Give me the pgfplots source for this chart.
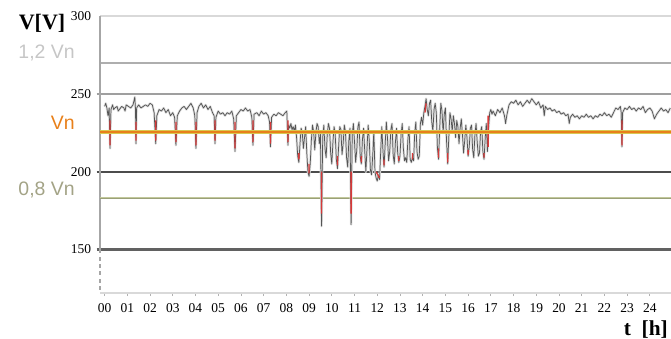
\documentclass[border=0pt]{standalone}
\usepackage{fontspec}
\setmainfont{Liberation Serif}
\newfontfamily\arialf{Liberation Sans}
\usepackage{pgfplots}
\usepackage{pgfplotstable}
\pgfplotsset{compat=1.18}
\definecolor{vncol}{HTML}{E8801A}
\definecolor{vnedge}{HTML}{D8C850}
\definecolor{lowcol}{HTML}{A8B070}
\definecolor{lowtxt}{HTML}{A3A386}
\definecolor{hicol}{HTML}{AEAEAE}
\definecolor{hitxt}{HTML}{C6C6C6}
\definecolor{datcol}{HTML}{555555}
\definecolor{redcol}{HTML}{D83838}
\pgfplotstableread{
t v
0.00 242
0.05 244
0.10 241
0.15 236
0.20 241
0.24 215
0.28 240
0.35 243
0.40 240
0.45 241
0.55 242
0.60 239
0.65 240
0.75 242
0.85 241
0.90 239
0.95 243
1.05 242
1.15 241
1.25 243
1.33 248
1.36 240
1.38 218
1.41 241
1.50 243
1.60 241
1.70 242
1.80 243
1.90 242
2.00 244
2.10 243
2.18 238
2.25 218
2.30 236
2.40 240
2.50 239
2.60 241
2.70 238
2.80 240
2.90 236
3.00 238
3.08 235
3.14 217
3.20 236
3.30 239
3.40 241
3.50 242
3.60 240
3.70 242
3.80 244
3.90 241
3.97 236
4.02 215
4.07 238
4.15 242
4.25 244
4.35 241
4.45 243
4.55 240
4.65 242
4.75 238
4.82 236
4.86 218
4.90 235
5.00 239
5.10 237
5.20 238
5.30 236
5.40 238
5.50 237
5.60 239
5.68 234
5.74 213
5.80 236
5.90 238
6.00 240
6.10 239
6.20 241
6.30 239
6.40 240
6.48 235
6.53 217
6.58 237
6.70 238
6.80 236
6.90 239
7.00 237
7.10 238
7.20 236
7.26 232
7.30 216
7.35 235
7.45 237
7.55 236
7.65 238
7.75 237
7.85 236
7.95 238
8.02 239
8.07 217
8.10 230
8.15 228
8.20 231
8.25 227
8.30 229
8.35 226
8.40 230
8.45 222
8.50 210
8.55 206
8.60 218
8.65 228
8.70 225
8.75 215
8.80 222
8.85 229
8.90 212
8.95 200
9.00 197
9.05 205
9.10 220
9.15 230
9.20 226
9.25 214
9.30 225
9.35 231
9.40 229
9.45 218
9.50 224
9.55 165
9.60 222
9.65 230
9.70 215
9.75 209
9.80 224
9.85 231
9.90 228
9.95 212
10.00 205
10.05 219
10.10 229
10.15 224
10.20 208
10.25 202
10.30 216
10.35 229
10.40 227
10.45 211
10.50 218
10.55 230
10.60 226
10.65 209
10.70 203
10.75 220
10.80 228
10.85 166
10.90 224
10.95 231
11.00 219
11.05 206
11.10 214
11.15 229
11.20 232
11.25 210
11.30 205
11.35 221
11.40 228
11.45 213
11.50 200
11.55 215
11.60 230
11.65 220
11.70 201
11.75 198
11.80 210
11.85 226
11.90 200
11.95 196
12.00 194
12.05 198
12.10 195
12.15 212
12.20 229
12.25 214
12.30 203
12.35 218
12.40 232
12.45 222
12.50 207
12.55 213
12.60 227
12.65 231
12.70 211
12.75 205
12.80 219
12.85 228
12.90 212
12.95 206
13.00 210
13.05 224
13.10 231
13.15 215
13.20 207
13.25 209
13.30 206
13.35 221
13.40 229
13.45 208
13.50 206
13.55 209
13.60 207
13.65 225
13.70 232
13.75 213
13.80 208
13.85 210
13.90 231
13.95 235
14.00 230
14.05 238
14.10 242
14.15 247
14.20 240
14.25 236
14.30 244
14.35 246
14.40 232
14.45 226
14.50 240
14.55 244
14.60 238
14.65 215
14.70 208
14.75 228
14.80 244
14.85 239
14.90 225
14.95 237
15.00 241
15.05 220
15.10 205
15.15 222
15.20 238
15.25 234
15.30 226
15.35 236
15.40 231
15.45 222
15.50 233
15.55 229
15.60 218
15.65 228
15.70 234
15.75 224
15.80 212
15.85 220
15.90 230
15.95 222
16.00 210
16.05 216
16.10 228
16.15 230
16.20 214
16.25 209
16.30 224
16.35 231
16.40 219
16.45 210
16.50 212
16.55 226
16.60 229
16.65 213
16.70 208
16.75 221
16.80 231
16.85 213
16.90 228
16.95 238
17.00 240
17.05 237
17.10 239
17.20 236
17.30 240
17.40 238
17.50 241
17.60 236
17.65 231
17.70 236
17.80 243
17.90 245
18.00 244
18.10 246
18.20 243
18.30 245
18.40 242
18.50 244
18.60 246
18.70 244
18.80 247
18.90 245
19.00 243
19.10 245
19.20 241
19.30 243
19.35 236
19.40 242
19.50 240
19.60 241
19.70 239
19.80 240
19.90 238
20.00 239
20.10 237
20.20 238
20.30 236
20.40 237
20.45 231
20.50 235
20.60 237
20.70 235
20.80 236
20.90 234
21.00 236
21.10 235
21.20 237
21.30 235
21.40 236
21.50 234
21.60 236
21.70 235
21.80 237
21.90 236
22.00 238
22.10 236
22.20 237
22.30 235
22.40 238
22.50 241
22.60 240
22.70 242
22.74 238
22.77 216
22.80 238
22.90 241
23.00 240
23.10 242
23.20 240
23.30 241
23.40 239
23.50 241
23.60 240
23.70 242
23.80 238
23.90 240
24.00 241
24.10 239
24.20 234
24.30 237
24.40 239
24.50 241
24.60 239
24.70 240
24.80 238
24.90 241
}\voltdata
\begin{document}
\begin{tikzpicture}[x=0.75pt,y=0.75pt]
\useasboundingbox (0,0) rectangle (671,339);
\begin{axis}[
  at={(75pt,34.27pt)}, anchor=south west,
  scale only axis, width=428.25pt, height=207.8pt,
  xmin=-0.2025, xmax=24.93, ymin=121.8, ymax=300,
  clip=false,
  axis lines*=left,
  axis line style={draw=none},
  xtick={0,...,24},
  xticklabels={00,01,02,03,04,05,06,07,08,09,10,11,12,13,14,15,16,17,18,19,20,21,22,23,24},
  ytick={150,200,250,300},
  yticklabels={150,200,250,300},
  ytick style={draw=none},
  xtick style={draw=gray!60, line width=0.6pt},
  tick align=outside,
  major tick length=2.2pt,
  ticklabel style={font=\fontsize{10.1}{12}\selectfont, text=black},
  xticklabel style={yshift=-2pt},
  yticklabel style={xshift=-1pt},
  unbounded coords=jump,
]
% reference lines
\addplot[gray!30, line width=1.6pt] coordinates {(-0.2025,300) (24.93,300)};
\addplot[hicol, line width=1.6pt] coordinates {(-0.2025,270.2) (24.93,270.2)};
\addplot[gray!75, line width=1.3pt] coordinates {(-0.35,250) (24.93,250)};
\addplot[black!70, line width=1.2pt] coordinates {(-0.35,200) (24.93,200)};
\addplot[black!62, line width=1.6pt] coordinates {(-0.35,150) (24.93,150)};
\addplot[gray!30, line width=1.4pt] coordinates {(-0.2025,121.8) (24.93,121.8)};
\addplot[gray!70, line width=1.1pt] coordinates {(-0.2025,300) (-0.2025,150)};
\addplot[gray!70, line width=1.1pt, dash pattern=on 3pt off 2.5pt] coordinates {(-0.2025,150) (-0.2025,121.8)};
\addplot[lowcol!70, line width=2.0pt] coordinates {(-0.2025,183.2) (24.93,183.2)};
\addplot[lowcol!60!black!90, line width=0.5pt, opacity=0.5] coordinates {(-0.2025,183.2) (24.93,183.2)};
% data
\addplot[gray!25, line width=1.8pt, line join=round] table[x=t,y=v] {\voltdata};
\addplot[datcol, line width=0.55pt, line join=round] table[x=t,y=v] {\voltdata};
\addplot[redcol, line width=1.0pt] coordinates {
(0.24,233) (0.24,217) (0.24,nan)
(1.38,232) (1.38,220) (1.38,nan)
(2.25,233) (2.25,220) (2.25,nan)
(3.14,232) (3.14,219) (3.14,nan)
(4.02,232) (4.02,217) (4.02,nan)
(4.86,233) (4.86,220) (4.86,nan)
(5.74,232) (5.74,215) (5.74,nan)
(6.53,233) (6.53,219) (6.53,nan)
(7.30,232) (7.30,218) (7.30,nan)
(8.07,233) (8.07,219) (8.07,nan)
(8.55,212) (8.55,208) (8.55,nan)
(9.00,205) (9.00,199) (9.00,nan)
(9.55,200) (9.55,173) (9.55,nan)
(10.25,210) (10.25,204) (10.25,nan)
(10.85,200) (10.85,173) (10.85,nan)
(11.30,210) (11.30,206) (11.30,nan)
(11.95,200) (12.10,196) (12.10,nan)
(12.30,208) (12.30,204) (12.30,nan)
(12.95,210) (12.95,207) (12.95,nan)
(13.55,212) (13.55,208) (13.55,nan)
(14.10,238) (14.15,244) (14.15,nan)
(14.70,215) (14.70,209) (14.70,nan)
(15.10,212) (15.10,206) (15.10,nan)
(16.00,214) (16.00,211) (16.00,nan)
(16.70,212) (16.70,209) (16.70,nan)
(16.88,236) (16.88,216) (16.88,nan)
(22.77,233) (22.77,217)
};
% nominal line
\addplot[vnedge, line width=3.2pt] coordinates {(-0.2025,225.6) (24.93,225.6)};
\addplot[vncol, line width=2.0pt] coordinates {(-0.2025,225.6) (24.93,225.6)};
\end{axis}
\node[anchor=east, inner sep=0pt, font=\bfseries\fontsize{16.5}{18}\selectfont] at (65.5,316) {V[V]};
\node[anchor=east, inner sep=0pt, text=hitxt, font=\arialf\fontsize{14.6}{16}\selectfont] at (75,286) {1,2 Vn};
\node[anchor=east, inner sep=0pt, text=vncol, font=\arialf\fontsize{14.6}{16}\selectfont] at (75,216) {Vn};
\node[anchor=east, inner sep=0pt, text=lowtxt, font=\arialf\fontsize{14.6}{16}\selectfont] at (75,149) {0,8 Vn};
\node[anchor=east, inner sep=0pt, font=\bfseries\fontsize{16}{18}\selectfont] at (668,9) {t\hspace{0.5em}[h]};
\end{tikzpicture}
\end{document}
